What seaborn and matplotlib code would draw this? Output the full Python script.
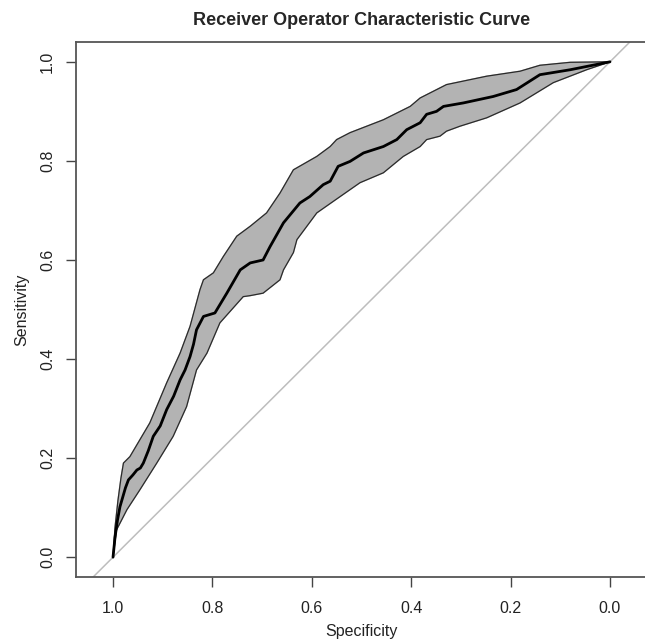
import numpy as np
import pandas as pd
import matplotlib
matplotlib.use("Agg")
import matplotlib.pyplot as plt
import seaborn as sns

# ROC curve (specificity, sensitivity)
roc_spec = [1.0, 0.996, 0.991, 0.986, 0.975, 0.969, 0.960, 0.952, 0.945, 0.939,
            0.929, 0.919, 0.905, 0.892, 0.878, 0.865, 0.855, 0.845, 0.838, 0.832,
            0.818, 0.795, 0.771, 0.744, 0.724, 0.698, 0.684, 0.657, 0.624, 0.604,
            0.577, 0.563, 0.547, 0.523, 0.496, 0.456, 0.429, 0.409, 0.382, 0.369,
            0.349, 0.335, 0.295, 0.235, 0.188, 0.141, 0.080, 0.0]
roc_sens = [0.0, 0.040, 0.075, 0.102, 0.140, 0.156, 0.166, 0.176, 0.180, 0.190,
            0.215, 0.244, 0.265, 0.298, 0.325, 0.358, 0.378, 0.405, 0.430, 0.459,
            0.486, 0.493, 0.533, 0.580, 0.594, 0.600, 0.627, 0.675, 0.715, 0.728,
            0.752, 0.759, 0.789, 0.799, 0.816, 0.829, 0.843, 0.863, 0.877, 0.894,
            0.900, 0.910, 0.917, 0.930, 0.944, 0.974, 0.984, 1.0]

# confidence band, upper edge
upper_spec = [1.0, 0.996, 0.990, 0.984, 0.979, 0.966, 0.946, 0.926, 0.892, 0.865,
              0.845, 0.825, 0.818, 0.798, 0.778, 0.751, 0.724, 0.691, 0.664, 0.637,
              0.590, 0.563, 0.550, 0.523, 0.456, 0.402, 0.382, 0.329, 0.248, 0.181,
              0.141, 0.080, 0.0]
upper_sens = [0.0, 0.060, 0.115, 0.160, 0.190, 0.203, 0.237, 0.271, 0.352, 0.412,
              0.466, 0.540, 0.560, 0.574, 0.607, 0.648, 0.668, 0.695, 0.735, 0.782,
              0.809, 0.829, 0.843, 0.857, 0.883, 0.910, 0.927, 0.954, 0.971, 0.981,
              0.993, 0.999, 1.0]

# confidence band, lower edge
lower_spec = [1.0, 0.993, 0.972, 0.946, 0.912, 0.879, 0.852, 0.832, 0.811, 0.785,
              0.738, 0.724, 0.698, 0.664, 0.657, 0.637, 0.630, 0.590, 0.543, 0.503,
              0.456, 0.416, 0.382, 0.369, 0.342, 0.329, 0.302, 0.248, 0.181, 0.114,
              0.047, 0.0]
lower_sens = [0.0, 0.055, 0.096, 0.136, 0.190, 0.244, 0.304, 0.378, 0.412, 0.473,
              0.526, 0.528, 0.533, 0.560, 0.580, 0.615, 0.641, 0.695, 0.728, 0.756,
              0.776, 0.809, 0.829, 0.843, 0.850, 0.860, 0.870, 0.887, 0.917, 0.958,
              0.984, 1.0]

x_ticks = [1.0, 0.8, 0.6, 0.4, 0.2, 0.0]
y_ticks = [0.0, 0.2, 0.4, 0.6, 0.8, 1.0]

sns.set_style("ticks")
plt.rcParams["font.family"] = ["Liberation Sans", "DejaVu Sans"]

W, H = 645, 644
fig = plt.figure(figsize=(W / 100, H / 100), dpi=100)
ax = fig.add_axes([76 / W, (H - 577) / H, 571 / W, 535 / H])

# shaded confidence band
band_x = upper_spec + lower_spec[::-1]
band_y = upper_sens + lower_sens[::-1]
ax.fill(band_x, band_y, color="#b3b3b3", zorder=1)
ax.plot(upper_spec, upper_sens, color="#2a2a2a", lw=0.9, zorder=2)
ax.plot(lower_spec, lower_sens, color="#2a2a2a", lw=0.9, zorder=2)

# chance diagonal
ax.axline((1.0, 0.0), (0.0, 1.0), color="#bdbdbd", lw=1.1, zorder=0)

roc_df = pd.DataFrame({"Specificity": roc_spec, "Sensitivity": roc_sens})
sns.lineplot(data=roc_df, x="Specificity", y="Sensitivity", sort=False,
             estimator=None, color="black", lw=2.0, ax=ax, zorder=3)

ax.set_xlim(1.0745, -0.0745)
ax.set_ylim(-0.04, 1.04)
ax.set_xticks(x_ticks)
ax.set_yticks(y_ticks)
ax.set_xticklabels([f"{t:.1f}" for t in x_ticks])
ax.set_yticklabels([f"{t:.1f}" for t in y_ticks], rotation=90, va="center")
ax.tick_params(axis="both", direction="out", length=7, width=1.0,
               color="#444444", labelsize=11.5, labelcolor="#222222")
ax.tick_params(axis="x", pad=10)
ax.tick_params(axis="y", pad=8)
for s in ax.spines.values():
    s.set_color("#555555")
    s.set_linewidth(1.3)

ax.set_xlabel("Specificity", fontsize=11.5, color="#222222", labelpad=6)
ax.set_ylabel("Sensitivity", fontsize=11.5, color="#222222", labelpad=8)
ax.set_title("Receiver Operator Characteristic Curve", fontsize=13,
             fontweight="bold", pad=12)

fig.savefig("out.png", dpi=100)
